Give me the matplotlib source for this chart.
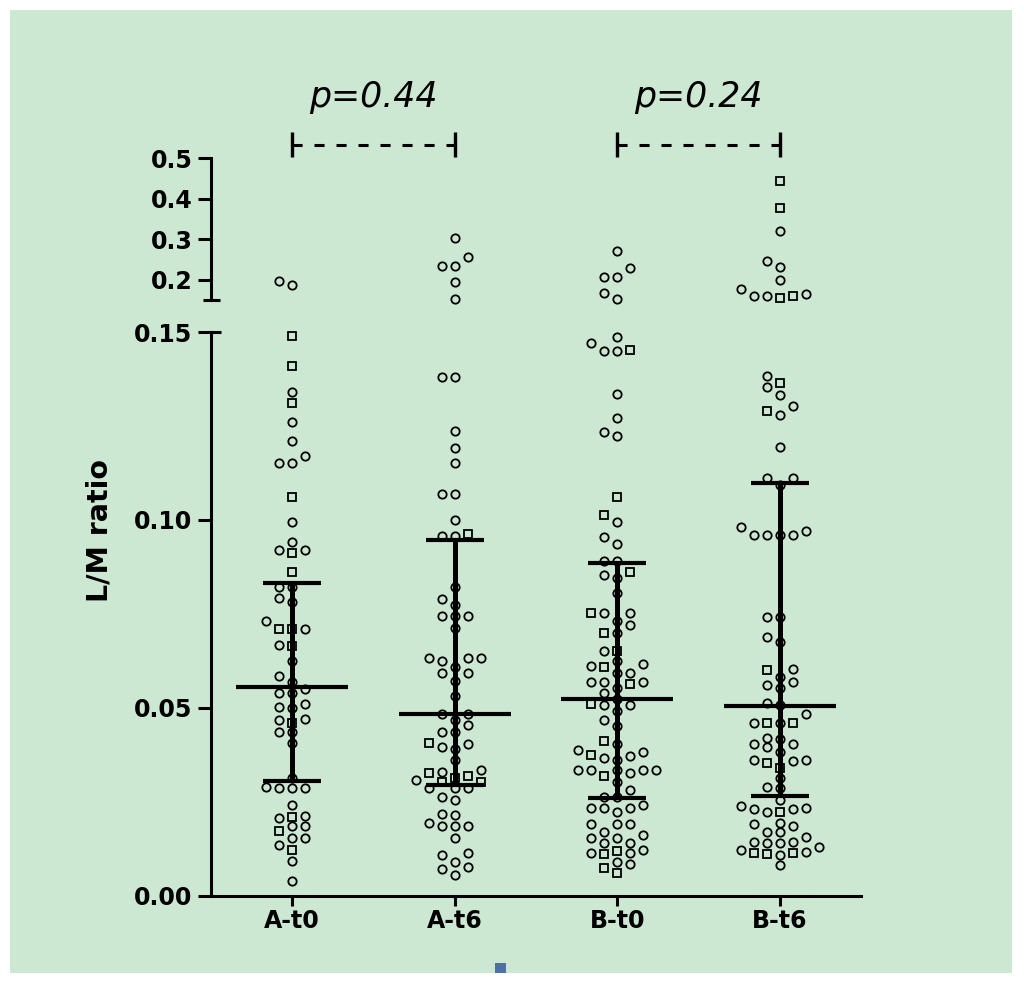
import matplotlib
matplotlib.use('Agg')
import matplotlib.pyplot as plt
import numpy as np
from matplotlib.patches import Rectangle

# groups on the x axis
groups = ['A-t0', 'A-t6', 'B-t0', 'B-t6']

# L/M ratio values (circles / squares = two subgroups)
a_t0_ci = [0.197, 0.188, 0.134, 0.126, 0.121, 0.117, 0.115, 0.115, 0.0993, 0.094,
           0.0921, 0.0921, 0.082, 0.082, 0.0793, 0.078, 0.0732, 0.071, 0.0668,
           0.0623, 0.0583, 0.0567, 0.0551, 0.054, 0.054, 0.0511, 0.0503, 0.050,
           0.0471, 0.0468, 0.0434, 0.0434, 0.0407, 0.0314, 0.029, 0.0285, 0.0285,
           0.0285, 0.0242, 0.0207, 0.0212, 0.0184, 0.0184, 0.0154, 0.0154, 0.0135,
           0.0093, 0.0039]
a_t0_sq = [0.149, 0.141, 0.131, 0.106, 0.0913, 0.0862, 0.071, 0.071, 0.0663,
           0.046, 0.021, 0.0173, 0.0122]

a_t6_ci = [0.302, 0.255, 0.235, 0.235, 0.195, 0.153, 0.138, 0.138, 0.1236, 0.119,
           0.115, 0.107, 0.107, 0.100, 0.0958, 0.0958, 0.082, 0.079, 0.0772,
           0.0743, 0.0743, 0.0743, 0.0711, 0.0631, 0.0631, 0.0623, 0.0633, 0.0593,
           0.0609, 0.0593, 0.0572, 0.0532, 0.0484, 0.0484, 0.0468, 0.0455, 0.0434,
           0.0434, 0.0402, 0.0391, 0.0394, 0.0362, 0.033, 0.0335, 0.0308, 0.0287,
           0.0287, 0.0287, 0.0255, 0.0263, 0.0215, 0.0218, 0.0184, 0.0194, 0.0184,
           0.0184, 0.0152, 0.0109, 0.0113, 0.009, 0.0077, 0.0071, 0.0055]
a_t6_sq = [0.0963, 0.0407, 0.0327, 0.0303, 0.0303, 0.0317, 0.0314]

b_t0_ci = [0.270, 0.230, 0.207, 0.207, 0.168, 0.153, 0.1486, 0.1472, 0.1449,
           0.1449, 0.1334, 0.1272, 0.1233, 0.1222, 0.0993, 0.0953, 0.0935, 0.089,
           0.089, 0.0852, 0.0844, 0.0806, 0.0753, 0.0753, 0.0732, 0.0721, 0.070,
           0.0652, 0.0615, 0.0623, 0.0612, 0.0593, 0.0593, 0.0569, 0.0569, 0.0569,
           0.0553, 0.054, 0.0508, 0.0508, 0.0522, 0.0468, 0.049, 0.0452, 0.0404,
           0.0386, 0.0372, 0.0367, 0.0362, 0.0383, 0.0335, 0.0335, 0.0335, 0.0325,
           0.0335, 0.0335, 0.0303, 0.0282, 0.0263, 0.0263, 0.0242, 0.0221, 0.0234,
           0.0234, 0.0234, 0.0189, 0.0189, 0.0189, 0.0162, 0.0152, 0.0141, 0.0141,
           0.0154, 0.0168, 0.0122, 0.0114, 0.0114, 0.009, 0.0084]
b_t0_sq = [0.1451, 0.1062, 0.1012, 0.086, 0.0753, 0.070, 0.065, 0.0609, 0.0564,
           0.0511, 0.041, 0.0375, 0.0317, 0.0111, 0.0119, 0.006, 0.0074]

b_t6_ci = [0.319, 0.245, 0.232, 0.200, 0.178, 0.165, 0.160, 0.160, 0.1382, 0.1353,
           0.1331, 0.128, 0.1302, 0.1195, 0.1112, 0.1112, 0.1094, 0.0981, 0.096,
           0.096, 0.096, 0.097, 0.096, 0.0742, 0.0742, 0.0689, 0.0675, 0.0604,
           0.0569, 0.0561, 0.0582, 0.0553, 0.0508, 0.0513, 0.046, 0.046, 0.0482,
           0.0417, 0.0404, 0.0394, 0.0404, 0.042, 0.0381, 0.0362, 0.0357, 0.0362,
           0.0314, 0.029, 0.0285, 0.0239, 0.0231, 0.0221, 0.0234, 0.0231, 0.0253,
           0.0194, 0.0189, 0.0168, 0.017, 0.0184, 0.0157, 0.0143, 0.0143, 0.0141,
           0.013, 0.0141, 0.0122, 0.0109, 0.0116, 0.0082]
b_t6_sq = [0.443, 0.376, 0.160, 0.156, 0.1364, 0.1291, 0.0601, 0.046, 0.046,
           0.034, 0.0353, 0.0221, 0.0113, 0.0113, 0.0111]

circles = [a_t0_ci, a_t6_ci, b_t0_ci, b_t6_ci]
squares = [a_t0_sq, a_t6_sq, b_t0_sq, b_t6_sq]

# median and interquartile range per group
medians = [0.0556, 0.0484, 0.0524, 0.0505]
q1 = [0.0305, 0.0295, 0.0260, 0.0266]
q3 = [0.0833, 0.0945, 0.0884, 0.1099]

# comparisons shown above the plot
pairs = [(0, 1), (2, 3)]
p_labels = ['p=0.44', 'p=0.24']

BREAK = 0.15
BG = '#cde8d2'
W, H = 1024, 983

fig = plt.figure(figsize=(W / 100, H / 100), dpi=100, facecolor='white')
fig.patches.append(Rectangle((10 / W, 10 / H), 1002 / W, 963 / H, transform=fig.transFigure,
                             facecolor=BG, edgecolor='none', zorder=-10))
fig.patches.append(Rectangle((495 / W, 10 / H), 11 / W, 10 / H, transform=fig.transFigure,
                             facecolor='#4f6fa8', edgecolor='none', zorder=-9))

ax_lo = fig.add_axes([211 / W, (H - 895.5) / H, 650 / W, 563.5 / H])
ax_hi = fig.add_axes([211 / W, (H - 300) / H, 650 / W, 142 / H])

tick_font = dict(fontsize=17, fontweight='bold', family='DejaVu Sans')
for ax in (ax_lo, ax_hi):
    ax.set_facecolor('none')
    ax.set_xlim(-0.5, 3.5)
    for s in ('top', 'right'):
        ax.spines[s].set_visible(False)
    ax.spines['left'].set_linewidth(2.2)
    ax.spines['bottom'].set_linewidth(2.2)
    ax.tick_params(axis='y', length=9.5, width=2.2, pad=4)

ax_lo.set_ylim(0, BREAK)
ax_lo.set_yticks([0, 0.05, 0.10, 0.15])
ax_lo.set_yticklabels(['0.00', '0.05', '0.10', '0.15'], **tick_font)
ax_lo.set_xticks(range(len(groups)))
ax_lo.set_xticklabels(groups, **tick_font)
ax_lo.tick_params(axis='x', length=7, width=2.2, pad=3)

ax_hi.set_ylim(BREAK, 0.5)
ax_hi.set_yticks([0.2, 0.3, 0.4, 0.5])
ax_hi.set_yticklabels(['0.2', '0.3', '0.4', '0.5'], **tick_font)
ax_hi.spines['bottom'].set_visible(False)
ax_hi.set_xticks([])

# little caps at the axis break
ax_lo.plot([0, 10 / 650], [1, 1], transform=ax_lo.transAxes, color='k', lw=2.2,
           clip_on=False, solid_capstyle='butt')
ax_hi.plot([-8 / 650, 9 / 650], [0, 0], transform=ax_hi.transAxes, color='k', lw=2.2,
           clip_on=False, solid_capstyle='butt')


def swarm_offsets(ax, center, vals, dx_px=13.0, dy_px=9.5):
    """spread points sideways on a grid so they don't overlap (Prism style)"""
    pix = ax.transData.transform([(center, v) for v in vals])
    px_per_x = ax.transData.transform((1, 0))[0] - ax.transData.transform((0, 0))[0]
    order = np.argsort(pix[:, 1])
    placed = []
    offs = np.zeros(len(vals))
    steps = [0]
    for k in range(1, 10):
        steps += [-k, k]
    for i in order:
        y = pix[i, 1]
        for k in steps:
            x = k * dx_px
            if all(abs(x - px) > dx_px - 0.5 or abs(y - py) >= dy_px for px, py in placed):
                break
        placed.append((x, y))
        offs[i] = x / px_per_x
    return offs


mk = dict(linestyle='none', markerfacecolor='none', markeredgecolor='k',
          markeredgewidth=1.3, zorder=2, clip_on=False)
for i in range(len(groups)):
    for ax, inside in ((ax_lo, lambda v: v <= BREAK), (ax_hi, lambda v: v > BREAK)):
        ci = [v for v in circles[i] if inside(v)]
        sq = [v for v in squares[i] if inside(v)]
        vals = ci + sq
        if not vals:
            continue
        offs = swarm_offsets(ax, i, vals)
        xs = i + offs
        ax.plot(xs[:len(ci)], ci, marker='o', markersize=6, **mk)
        ax.plot(xs[len(ci):], sq, marker='s', markersize=5.5, **mk)

# median with interquartile range
x = np.arange(len(groups))
ax_lo.vlines(x, q1, q3, color='k', lw=3.6, zorder=4)
ax_lo.hlines(q1, x - 0.178, x + 0.178, color='k', lw=3, zorder=4)
ax_lo.hlines(q3, x - 0.178, x + 0.178, color='k', lw=3, zorder=4)
ax_lo.hlines(medians, x - 0.344, x + 0.344, color='k', lw=3, zorder=4)

# dashed brackets with p values
tr = ax_hi.get_xaxis_transform()
for (a, b), lab in zip(pairs, p_labels):
    ax_hi.plot([a, b], [1.0915, 1.0915], transform=tr, color='k', lw=2.2,
               dashes=(3.3, 3.9), clip_on=False)
    for xx in (a, b):
        ax_hi.plot([xx, xx], [1.007, 1.183], transform=tr, color='k', lw=2.4,
                   clip_on=False, solid_capstyle='butt')
    ax_hi.text((a + b) / 2, 1.359, lab, transform=tr, ha='center', va='baseline',
               fontsize=25, style='italic', family='DejaVu Sans')

fig.text(100 / W, (H - 530) / H, 'L/M ratio', rotation=90, ha='center', va='center',
         fontsize=20.5, fontweight='bold', family='DejaVu Sans')

fig.savefig('out.png', dpi=100, facecolor='white')
